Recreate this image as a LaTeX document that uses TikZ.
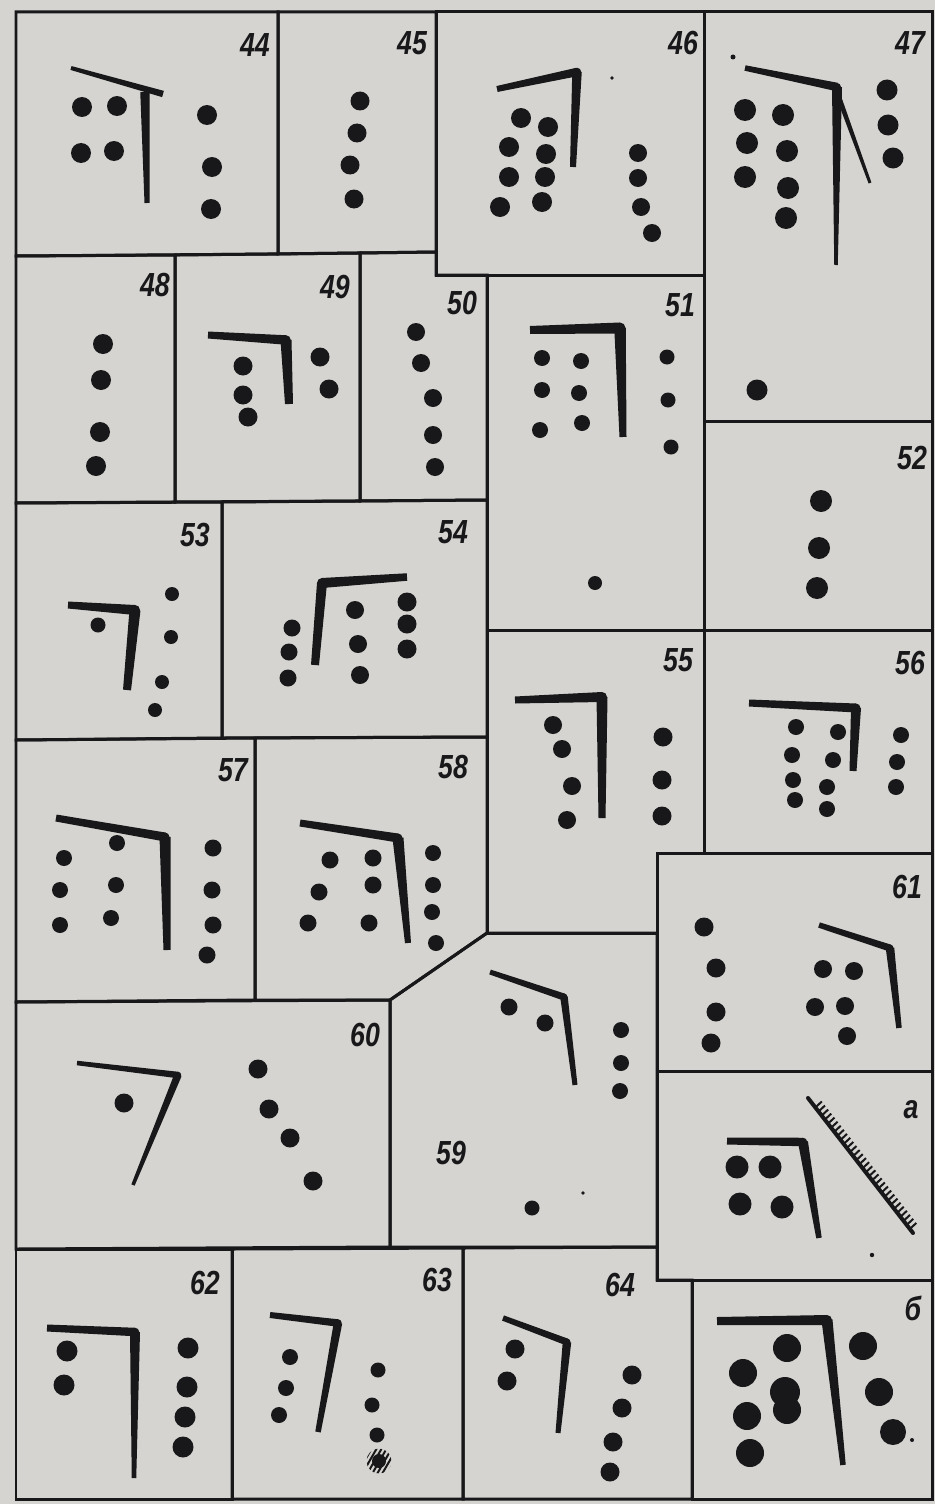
\documentclass[tikz,border=0pt]{standalone}
\usepackage{fontspec}
\newfontfamily\labfont[FakeStretch=0.8]{Liberation Sans}
\usetikzlibrary{calc}
\definecolor{paper}{RGB}{214,212,208}
\definecolor{ink}{RGB}{24,24,26}
% tapered stroke: from #1 to #2, half widths #3 and #4 (cm)
\newcommand\tp[4]{\fill[ink] ($(#1)!#3cm!90:(#2)$) -- ($(#2)!#4cm!-90:(#1)$) -- ($(#2)!#4cm!90:(#1)$) -- ($(#1)!#3cm!-90:(#2)$) -- cycle;}
% bracket: start, corner, end, widths
\newcommand\brk[7]{\tp{#1}{#2}{#4}{#5}\tp{#2}{#3}{#6}{#7}\fill[ink] (#2) circle[radius=#5*50];}
\newcommand\Dt[3]{\fill[ink] (#1,#2) circle[radius=#3];}
\begin{document}
\begin{tikzpicture}[x=0.02cm,y=-0.02cm,
  frame/.style={draw=ink,line width=0.06cm,line join=miter},
  lab/.style={font=\labfont\bfseries\itshape\fontsize{19}{19}\selectfont,text=ink,inner sep=0pt}]
\useasboundingbox (0,0) rectangle (935,1504);
\fill[paper] (0,0) rectangle (935,1504);
% ---------- panel frames ----------
\draw[frame] (16,12) -- (278,12) -- (278,254) -- (16,256) -- cycle;
\draw[frame] (278,12) -- (436,12) -- (436,252) -- (278,254) -- cycle;
\draw[frame] (436,12) -- (704,12) -- (704,275) -- (436,275) -- cycle;
\draw[frame] (704,12) -- (932,12) -- (932,421) -- (704,421) -- cycle;
\draw[frame] (16,256) -- (175,255) -- (175,502) -- (16,503) -- cycle;
\draw[frame] (175,255) -- (360,253) -- (360,501) -- (175,502) -- cycle;
\draw[frame] (360,253) -- (436,252) -- (436,275) -- (487,275) -- (487,500) -- (360,501) -- cycle;
\draw[frame] (487,275) -- (704,275) -- (704,630) -- (487,630) -- cycle;
\draw[frame] (704,421) -- (932,421) -- (932,630) -- (704,630) -- cycle;
\draw[frame] (16,503) -- (222,502) -- (222,738) -- (16,740) -- cycle;
\draw[frame] (222,502) -- (487,500) -- (487,737) -- (222,738) -- cycle;
\draw[frame] (487,630) -- (704,630) -- (704,853) -- (657,853) -- (657,933) -- (487,933) -- cycle;
\draw[frame] (704,630) -- (932,630) -- (932,853) -- (704,853) -- cycle;
\draw[frame] (16,740) -- (255,738) -- (255,1000) -- (16,1002) -- cycle;
\draw[frame] (255,738) -- (487,737) -- (487,933) -- (390,1000) -- (255,1000) -- cycle;
\draw[frame] (487,933) -- (657,933) -- (657,1247) -- (390,1247) -- (390,1000) -- cycle;
\draw[frame] (16,1002) -- (390,1000) -- (390,1247) -- (16,1249) -- cycle;
\draw[frame] (657,853) -- (932,853) -- (932,1071) -- (657,1071) -- cycle;
\draw[frame] (657,1071) -- (932,1071) -- (932,1280) -- (657,1280) -- cycle;
\draw[frame] (16,1249) -- (232,1249) -- (232,1499) -- (16,1499) -- cycle;
\draw[frame] (232,1249) -- (463,1248) -- (463,1499) -- (232,1499) -- cycle;
\draw[frame] (463,1248) -- (657,1247) -- (657,1280) -- (692,1280) -- (692,1499) -- (463,1499) -- cycle;
\draw[frame] (692,1280) -- (932,1280) -- (932,1499) -- (692,1499) -- cycle;
% ---------- labels ----------
\node[lab] (l44) at (255,45) {44};
\node[lab] (l45) at (412,43) {45};
\node[lab] (l46) at (683,43) {46};
\node[lab] (l47) at (910,43) {47};
\node[lab] (l48) at (155,285) {48};
\node[lab] (l49) at (335,287) {49};
\node[lab] (l50) at (462,303) {50};
\node[lab] (l51) at (680,305) {51};
\node[lab] (l52) at (912,458) {52};
\node[lab] (l53) at (195,535) {53};
\node[lab] (l54) at (453,532) {54};
\node[lab] (l55) at (678,660) {55};
\node[lab] (l56) at (910,663) {56};
\node[lab] (l57) at (233,770) {57};
\node[lab] (l58) at (453,767) {58};
\node[lab] (l59) at (451,1153) {59};
\node[lab] (l60) at (365,1035) {60};
\node[lab] (l61) at (907,887) {61};
\node[lab] (la) at (911,1110) {а};
\node[lab] (l62) at (205,1283) {62};
\node[lab] (l63) at (437,1280) {63};
\node[lab] (l64) at (620,1285) {64};
\node[lab] (lb) at (913,1308) {б};
% ---------- 44 ----------
\tp{71,68}{163,94}{.04}{.065}
\tp{145,92}{147,203}{.095}{.05}
\Dt{82}{107}{10}\Dt{117}{106}{10}\Dt{81}{153}{10}\Dt{114}{151}{10}
\Dt{207}{115}{10}\Dt{212}{167}{10}\Dt{211}{209}{10}
% ---------- 45 ----------
\Dt{360}{101}{9.5}\Dt{357}{133}{9.5}\Dt{350}{165}{9.5}\Dt{354}{199}{9.5}
% ---------- 46 ----------
\brk{497,89}{577,72}{573,167}{.06}{.085}{.095}{.06}
\Dt{521}{118}{10}\Dt{548}{127}{10}\Dt{509}{147}{10}\Dt{546}{154}{10}
\Dt{509}{177}{10}\Dt{545}{177}{10}\Dt{500}{207}{10}\Dt{542}{202}{10}
\Dt{638}{153}{9}\Dt{638}{178}{9}\Dt{641}{207}{9}\Dt{652}{233}{9}
\Dt{612}{78}{1.8}
% ---------- 47 ----------
\tp{745,68}{837,87}{.055}{.085}
\tp{837,87}{836,265}{.1}{.035}
\fill[ink] (837,87) circle[radius=4];
\tp{838,95}{870,183}{.05}{.03}
\Dt{745}{110}{11}\Dt{747}{143}{11}\Dt{745}{177}{11}
\Dt{783}{115}{11}\Dt{787}{151}{11}\Dt{788}{188}{11}\Dt{786}{218}{11}
\Dt{887}{90}{10.5}\Dt{888}{125}{10.5}\Dt{893}{158}{10.5}
\Dt{757}{390}{10.5}
\Dt{733}{57}{2.5}
% ---------- 48 ----------
\Dt{103}{344}{10}\Dt{101}{380}{10}\Dt{100}{432}{10}\Dt{96}{466}{10}
% ---------- 49 ----------
\brk{208,335}{286,340}{289,404}{.07}{.095}{.11}{.08}
\Dt{243}{366}{9.5}\Dt{243}{395}{9.5}\Dt{248}{417}{9.5}
\Dt{320}{357}{9.5}\Dt{329}{389}{9.5}
% ---------- 50 ----------
\Dt{416}{332}{9}\Dt{421}{363}{9}\Dt{433}{398}{9}\Dt{433}{435}{9}\Dt{435}{467}{9}
% ---------- 51 ----------
\brk{530,330}{620,328}{623,437}{.08}{.11}{.115}{.07}
\Dt{542}{358}{8}\Dt{581}{361}{8}\Dt{542}{390}{8}\Dt{579}{393}{8}\Dt{540}{430}{8}\Dt{582}{423}{8}
\Dt{667}{357}{7.5}\Dt{668}{400}{7.5}\Dt{671}{447}{7.5}
\Dt{595}{583}{7}
% ---------- 52 ----------
\Dt{821}{501}{11}\Dt{819}{548}{11}\Dt{817}{588}{11}
% ---------- 53 ----------
\brk{68,605}{135,610}{127,690}{.07}{.1}{.11}{.08}
\Dt{98}{625}{7.5}
\Dt{172}{594}{7}\Dt{171}{637}{7}\Dt{162}{682}{7}\Dt{155}{710}{7}
% ---------- 54 ----------
\brk{315,665}{322,583}{407,577}{.08}{.1}{.1}{.075}
\Dt{292}{628}{8.5}\Dt{289}{652}{8.5}\Dt{288}{678}{8.5}
\Dt{355}{610}{9}\Dt{358}{644}{9}\Dt{360}{675}{9}
\Dt{407}{602}{9.5}\Dt{407}{624}{9.5}\Dt{407}{649}{9.5}
% ---------- 55 ----------
\brk{515,700}{602,697}{602,818}{.07}{.1}{.11}{.07}
\Dt{553}{725}{9}\Dt{562}{749}{9}\Dt{572}{786}{9}\Dt{567}{820}{9}
\Dt{663}{737}{9.5}\Dt{662}{780}{9.5}\Dt{662}{816}{9.5}
% ---------- 56 ----------
\brk{749,703}{856,708}{853,771}{.07}{.09}{.1}{.07}
\Dt{796}{727}{8}\Dt{838}{732}{8}\Dt{792}{755}{8}\Dt{833}{760}{8}
\Dt{793}{780}{8}\Dt{827}{787}{8}\Dt{795}{800}{8}\Dt{827}{809}{8}
\Dt{901}{735}{8}\Dt{897}{762}{8}\Dt{896}{787}{8}
% ---------- 57 ----------
\brk{56,818}{165,837}{167,950}{.07}{.09}{.11}{.07}
\Dt{64}{858}{8}\Dt{60}{890}{8}\Dt{60}{925}{8}
\Dt{117}{843}{8}\Dt{116}{885}{8}\Dt{111}{918}{8}
\Dt{213}{848}{8.5}\Dt{212}{890}{8.5}\Dt{213}{925}{8.5}\Dt{207}{955}{8.5}
% ---------- 58 ----------
\brk{300,823}{398,838}{408,943}{.07}{.09}{.11}{.06}
\Dt{330}{860}{8.5}\Dt{373}{858}{8.5}\Dt{319}{892}{8.5}\Dt{373}{885}{8.5}\Dt{308}{923}{8.5}\Dt{369}{923}{8.5}
\Dt{433}{853}{8}\Dt{433}{885}{8}\Dt{432}{912}{8}\Dt{436}{943}{8}
% ---------- 59 ----------
\brk{490,972}{564,997}{575,1085}{.05}{.07}{.075}{.05}
\Dt{509}{1007}{8.5}\Dt{545}{1023}{8.5}
\Dt{621}{1030}{8}\Dt{621}{1063}{8}\Dt{620}{1091}{8}
\Dt{532}{1208}{7.5}
\Dt{583}{1193}{1.8}
% ---------- 60 ----------
\brk{77,1063}{178,1075}{133,1185}{.045}{.065}{.075}{.035}
\Dt{124}{1103}{9.5}
\Dt{258}{1069}{9.5}\Dt{269}{1109}{9.5}\Dt{290}{1138}{9.5}\Dt{313}{1181}{9.5}
% ---------- 61 ----------
\brk{819,925}{890,948}{899,1028}{.055}{.07}{.085}{.055}
\Dt{704}{927}{9.5}\Dt{716}{968}{9.5}\Dt{716}{1012}{9.5}\Dt{711}{1043}{9.5}
\Dt{823}{969}{9}\Dt{854}{971}{9}\Dt{815}{1007}{9}\Dt{845}{1006}{9}\Dt{847}{1036}{9}
% ---------- a ----------
\brk{727,1141}{803,1142}{819,1238}{.07}{.085}{.1}{.055}
\Dt{737}{1167}{11.5}\Dt{770}{1167}{11.5}\Dt{740}{1204}{11.5}\Dt{782}{1207}{11.5}
\draw[ink,line width=0.08cm,line cap=round] (808,1098) -- (913,1233);
\foreach \t in {0.07,0.1,...,0.99}
  \draw[ink,line width=0.04cm] ($(808,1098)!\t!(913,1233)$) -- ++(6.5,-6);
\Dt{872}{1255}{2.2}
% ---------- 62 ----------
\brk{47,1328}{135,1332}{134,1478}{.07}{.085}{.1}{.045}
\Dt{67}{1351}{10.5}\Dt{64}{1385}{10.5}
\Dt{188}{1348}{10.5}\Dt{187}{1387}{10.5}\Dt{185}{1417}{10.5}\Dt{183}{1447}{10.5}
% ---------- 63 ----------
\brk{270,1315}{338,1323}{318,1432}{.06}{.075}{.085}{.055}
\Dt{290}{1357}{8}\Dt{286}{1388}{8}\Dt{279}{1415}{8}
\Dt{378}{1370}{7.5}\Dt{372}{1405}{7.5}\Dt{377}{1435}{7.5}
\Dt{379}{1461}{7}
\begin{scope}
  \clip (379,1461) circle[radius=12.5];
  \foreach \o in {-14,-9,-4,1,6,11,16}
    \draw[ink,line width=0.04cm] (371+\o,1474) -- (386+\o,1448);
\end{scope}
% ---------- 64 ----------
\brk{503,1318}{567,1342}{558,1433}{.055}{.07}{.085}{.05}
\Dt{515}{1349}{9.5}\Dt{507}{1381}{9.5}
\Dt{632}{1375}{9.5}\Dt{622}{1408}{9.5}\Dt{613}{1442}{9.5}\Dt{610}{1472}{9.5}
% ---------- b ----------
\brk{717,1321}{827,1320}{843,1465}{.08}{.1}{.11}{.055}
\Dt{787}{1348}{14}\Dt{743}{1373}{14}\Dt{785}{1392}{15}\Dt{787}{1410}{14}
\Dt{747}{1416}{14}\Dt{750}{1453}{14}
\Dt{863}{1346}{14}\Dt{879}{1392}{14}\Dt{893}{1432}{13}
\Dt{912}{1440}{2}
\end{tikzpicture}
\end{document}
